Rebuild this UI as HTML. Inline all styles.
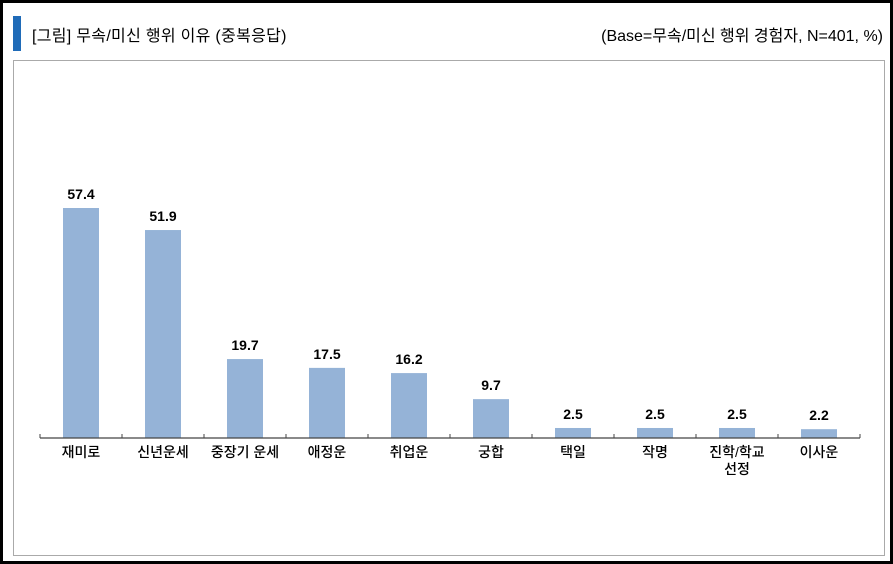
<!DOCTYPE html>
<html><head><meta charset="utf-8"><style>
body{margin:0;width:893px;height:564px;overflow:hidden;background:#fff;font-family:"Liberation Sans","Noto Sans CJK KR",sans-serif}
#frame{position:absolute;left:0;top:0;width:887px;height:558px;border:3px solid #000}
</style></head><body>
<div id="frame"></div>
<div style="position:absolute;left:13px;top:16px;width:8px;height:35px;background:#1f6bb8"></div>
<div style="position:absolute;left:32px;top:22px;font-size:16px;letter-spacing:0.3px;color:#000">[그림] 무속/미신 행위 이유 (중복응답)</div>
<div style="position:absolute;right:10px;top:22px;font-size:16px;color:#000">(Base=무속/미신 행위 경험자, N=401, %)</div>
<div style="position:absolute;left:13px;top:60px;width:870px;height:494px;border:1px solid #aaa"></div>
<svg id="chart" width="893" height="564" style="position:absolute;left:0;top:0"></svg>
<script>
const categories=["재미로","신년운세","중장기 운세","애정운","취업운","궁합","택일","작명","진학/학교|선정","이사운"];
const values=[57.4,51.9,19.7,17.5,16.2,9.7,2.5,2.5,2.5,2.2];
const labels=["57.4","51.9","19.7","17.5","16.2","9.7","2.5","2.5","2.5","2.2"];
const NS="http://www.w3.org/2000/svg";
const svg=document.getElementById('chart');
const x0=40,step=82,baseY=438,scale=4.007,bw=36;
const xc=i=>x0+step*i+step/2;
const y=v=>baseY-v*scale;
function mk(t,a){const e=document.createElementNS(NS,t);for(const k in a)e.setAttribute(k,a[k]);svg.appendChild(e);return e;}
values.forEach((v,i)=>{
 const r=mk('rect',{x:xc(i)-bw/2,y:y(v),width:bw,height:baseY-y(v),fill:'#95b3d7'});
 
 
 const t=mk('text',{x:xc(i),y:y(v)-9,'text-anchor':'middle','font-size':14,'font-weight':'bold',fill:'#000'});
 t.textContent=labels[i];
 
 
 const parts=categories[i].split('|');
 parts.forEach((p,j)=>{
  const c=mk('text',{x:xc(i),y:457+j*17,'text-anchor':'middle','font-size':14,'font-weight':'500',fill:'#000'});
  c.textContent=p;
  
  
 });
});
const ax=mk('line',{x1:x0,y1:baseY,x2:x0+step*categories.length,y2:baseY,stroke:'#444','stroke-width':1.3});


for(let i=0;i<=categories.length;i++){
 const tk=mk('line',{x1:x0+step*i,y1:baseY-4,x2:x0+step*i,y2:baseY,stroke:'#444'});
 
 
}
</script>
</body></html>
